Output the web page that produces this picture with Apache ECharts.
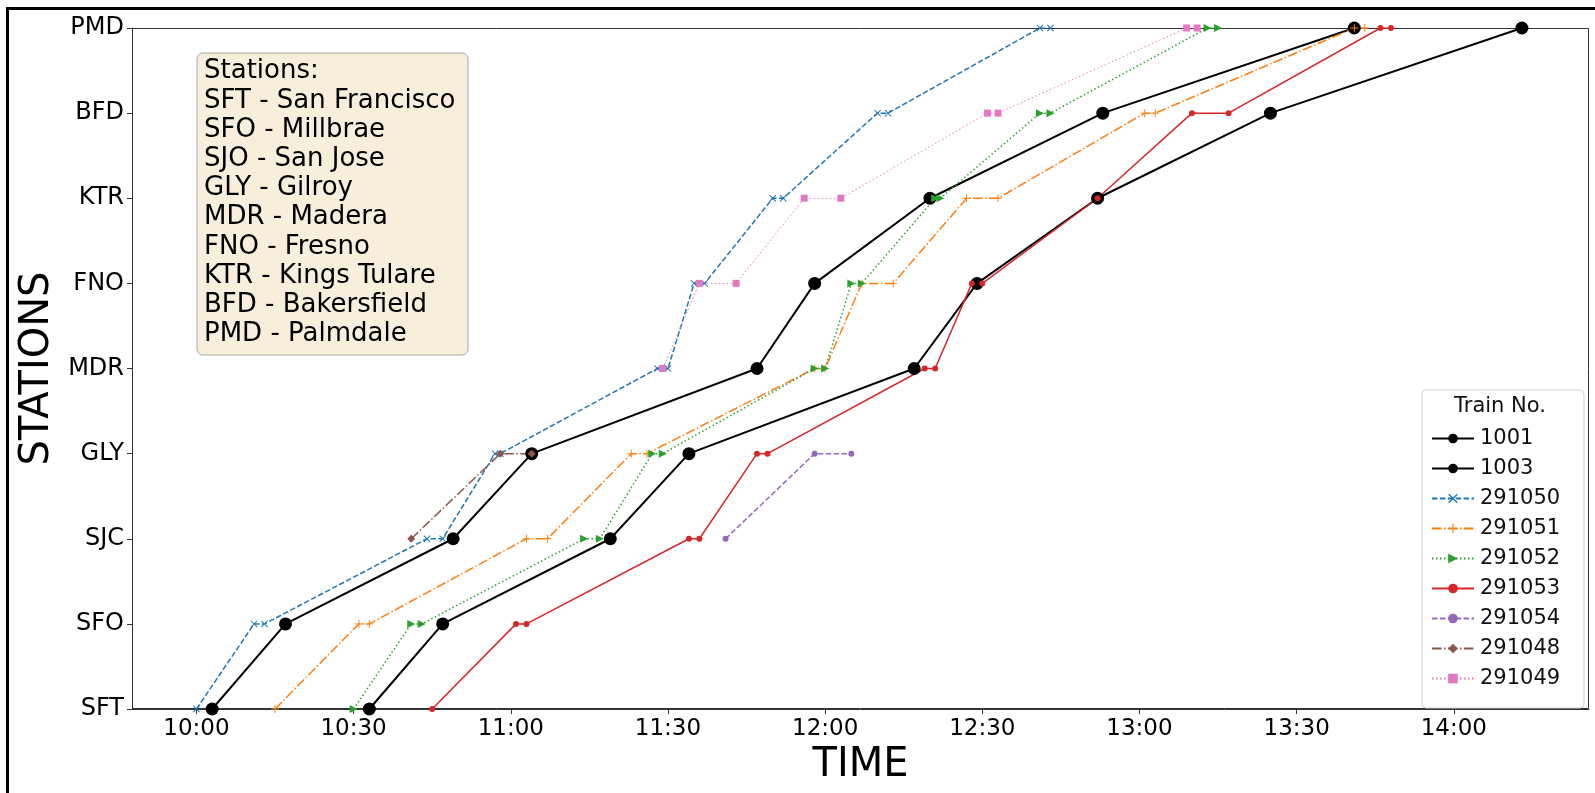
<!DOCTYPE html>
<html>
<head>
<meta charset="utf-8">
<script src="https://cdn.jsdelivr.net/npm/echarts@6/dist/echarts.min.js"></script>
<style>
  html, body { margin: 0; padding: 0; background: #fff; }
  #chart { width: 1595px; height: 793px; }
</style>
</head>
<body>
<div id="chart"></div>
<script>
// stations bottom -> top
const stations = ["SFT", "SFO", "SJC", "GLY", "MDR", "FNO", "KTR", "BFD", "PMD"];
const stationNotes = [
  "Stations:", "SFT - San Francisco", "SFO - Millbrae", "SJO - San Jose", "GLY - Gilroy",
  "MDR - Madera", "FNO - Fresno", "KTR - Kings Tulare", "BFD - Bakersfield", "PMD - Palmdale",
];
const timeTicks = ["10:00", "10:30", "11:00", "11:30", "12:00", "12:30", "13:00", "13:30", "14:00"];

// [station, time] per stop
const stops1001 = [["SFT","10:03"],["SFO","10:17"],["SJC","10:49"],["GLY","11:04"],["MDR","11:47"],
  ["FNO","11:58"],["KTR","12:20"],["BFD","12:53"],["PMD","13:41"]];
const stops1003 = [["SFT","10:33"],["SFO","10:47"],["SJC","11:19"],["GLY","11:34"],["MDR","12:17"],
  ["FNO","12:29"],["KTR","12:52"],["BFD","13:25"],["PMD","14:13"]];
const stops291050 = [["SFT","10:00"],["SFO","10:11"],["SFO","10:13"],["SJC","10:44"],["SJC","10:47"],
  ["GLY","10:57"],["GLY","10:58"],["MDR","11:28"],["MDR","11:30"],["FNO","11:35"],["FNO","11:37"],
  ["KTR","11:50"],["KTR","11:52"],["BFD","12:10"],["BFD","12:12"],["PMD","12:41"],["PMD","12:43"]];
const stops291051 = [["SFT","10:15"],["SFO","10:31"],["SFO","10:33"],["SJC","11:03"],["SJC","11:07"],
  ["GLY","11:23"],["GLY","11:26"],["MDR","11:58"],["MDR","12:00"],["FNO","12:07"],["FNO","12:13"],
  ["KTR","12:27"],["KTR","12:33"],["BFD","13:01"],["BFD","13:03"],["PMD","13:41"],["PMD","13:43"]];
const stops291052 = [["SFT","10:30"],["SFO","10:41"],["SFO","10:43"],["SJC","11:14"],["SJC","11:17"],
  ["GLY","11:27"],["GLY","11:29"],["MDR","11:58"],["MDR","12:00"],["FNO","12:05"],["FNO","12:07"],
  ["KTR","12:21"],["KTR","12:22"],["BFD","12:41"],["BFD","12:43"],["PMD","13:13"],["PMD","13:15"]];
const stops291053 = [["SFT","10:45"],["SFO","11:01"],["SFO","11:03"],["SJC","11:34"],["SJC","11:36"],
  ["GLY","11:47"],["GLY","11:49"],["MDR","12:19"],["MDR","12:21"],["FNO","12:28"],["FNO","12:30"],
  ["KTR","12:52"],["BFD","13:10"],["BFD","13:17"],["PMD","13:46"],["PMD","13:48"]];
const stops291054 = [["SJC","11:41"],["GLY","11:58"],["GLY","12:05"]];
const stops291048 = [["SJC","10:41"],["GLY","10:58"],["GLY","11:04"]];
const stops291049 = [["MDR","11:29"],["FNO","11:36"],["FNO","11:43"],["KTR","11:56"],["KTR","12:03"],
  ["BFD","12:31"],["BFD","12:33"],["PMD","13:09"],["PMD","13:11"]];

const FONT = "DejaVu Sans";
const toMin = s => { const [h, m] = s.split(":").map(Number); return h * 60 + m; };
const fmt = v => `${Math.floor(v / 60)}:${String(Math.round(v % 60)).padStart(2, "0")}`;
const pts = stops => stops.map(([st, t]) => [toMin(t), stations.indexOf(st)]);

// matplotlib-ish marker shapes
const MK = {
  x: "path://M-5,-4L-4,-5L0,-1L4,-5L5,-4L1,0L5,4L4,5L0,1L-4,5L-5,4L-1,0Z",
  plus: "path://M-0.6,-5H0.6V-0.6H5V0.6H0.6V5H-0.6V0.6H-5V-0.6H-0.6Z",
  tri: "path://M0,0L10,5L0,10Z",
  thinDiamond: "path://M0,-6L4,0L0,6L-4,0Z",
};
const DASH = [5.5, 2.4], DASHDOT = [9.6, 2.4, 1.5, 2.4], DOT = [1.5, 2.5];

const trains = [
  { name: "1001",   stops: stops1001,   color: "#000000", type: "solid", width: 2,   symbol: "circle",        size: 13 },
  { name: "1003",   stops: stops1003,   color: "#000000", type: "solid", width: 2,   symbol: "circle",        size: 13 },
  { name: "291050", stops: stops291050, color: "#1f77b4", type: DASH,    width: 1.5, symbol: MK.x,            size: 7 },
  { name: "291051", stops: stops291051, color: "#ff7f0e", type: DASHDOT, width: 1.5, symbol: MK.plus,         size: 8 },
  { name: "291052", stops: stops291052, color: "#2ca02c", type: DOT,     width: 1.5, symbol: MK.tri,          size: 8 },
  { name: "291053", stops: stops291053, color: "#d62728", type: "solid", width: 1.5, symbol: "circle",        size: 6 },
  { name: "291054", stops: stops291054, color: "#9467bd", type: DASH,    width: 1.5, symbol: "circle",        size: 6 },
  { name: "291048", stops: stops291048, color: "#8c564b", type: DASHDOT, width: 1.5, symbol: MK.thinDiamond,  size: 8 },
  { name: "291049", stops: stops291049, color: "#e377c2", type: DOT,     width: 1,   symbol: "rect",          size: 7 },
];

const chart = echarts.init(document.getElementById("chart"));

chart.setOption({
  animation: false,
  backgroundColor: "#fff",
  textStyle: { fontFamily: FONT },
  grid: { left: 132, right: 6, top: 28, bottom: 84 },
  xAxis: {
    type: "value", min: 587.7, max: 865.8,
    name: "TIME", nameLocation: "middle", nameGap: 34,
    nameTextStyle: { fontSize: 40, color: "#000", fontFamily: FONT },
    axisLine: { lineStyle: { color: "#333", width: 1 } },
    axisTick: { show: true, length: 5, customValues: timeTicks.map(toMin), lineStyle: { color: "#333" } },
    axisLabel: { customValues: timeTicks.map(toMin), formatter: fmt, fontSize: 23, color: "#000", margin: 9 },
    splitLine: { show: false },
  },
  yAxis: {
    type: "value", min: 0, max: stations.length - 1, interval: 1,
    name: "STATIONS", nameLocation: "middle", nameGap: 74, nameRotate: 90,
    nameTextStyle: { fontSize: 40, color: "#000", fontFamily: FONT },
    axisLine: { show: true, lineStyle: { color: "#333", width: 1 } },
    axisTick: { show: true, length: 5, lineStyle: { color: "#333" } },
    axisLabel: { formatter: v => stations[v] ?? "", fontSize: 24, color: "#000", margin: 8 },
    splitLine: { show: false },
  },
  legend: {
    orient: "vertical", left: 1431, top: 428, padding: 0,
    itemWidth: 42, itemHeight: 12, itemGap: 9,
    data: trains.map(t => t.name),
    textStyle: { fontSize: 21, color: "#111", fontFamily: FONT, lineHeight: 20, padding: [0, 0, 0, 1] },
    z: 6,
  },
  graphic: [
    // figure frame (only top & left fall inside the canvas)
    { type: "rect", shape: { x: 7.5, y: 8.5, width: 1700, height: 900 },
      style: { fill: "none", stroke: "#000", lineWidth: 3 }, z: 10, silent: true },
    // top / right spines of the axes box
    { type: "rect", shape: { x: 132.5, y: 28.5, width: 1456, height: 680 },
      style: { fill: "none", stroke: "#333", lineWidth: 1 }, z: 1, silent: true },
    // station key box
    { type: "rect", shape: { x: 197, y: 53, width: 271, height: 302, r: 6 },
      style: { fill: "#f7efdc", stroke: "#a8a8a8", lineWidth: 1 }, z: 5 },
    { type: "text", x: 204, y: 57, z: 6,
      style: { text: stationNotes.join("\n"), font: `26px '${FONT}'`, lineHeight: 29.2, fill: "#000" } },
    // legend frame + title
    { type: "rect", shape: { x: 1422, y: 390, width: 162, height: 318, r: 4 },
      style: { fill: "rgba(255,255,255,0.85)", stroke: "#d0d0d0", lineWidth: 1 }, z: 5 },
    { type: "text", x: 1500, y: 407, z: 6,
      style: { text: "Train No.", font: `21px '${FONT}'`, fill: "#111", textAlign: "center", textVerticalAlign: "middle" } },
  ],
  series: trains.map(t => ({
    name: t.name,
    type: "line",
    data: pts(t.stops),
    symbol: t.symbol,
    symbolSize: t.size,
    showAllSymbol: true,
    lineStyle: { color: t.color, width: t.width, type: t.type },
    itemStyle: { color: t.color, borderWidth: 0 },
    emphasis: { disabled: true },
    z: 2,
  })),
});
</script>
</body>
</html>
